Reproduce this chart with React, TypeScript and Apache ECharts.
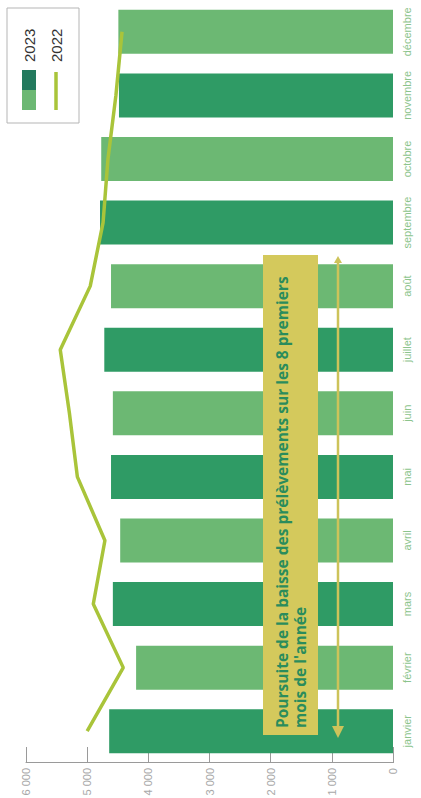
import React, { useEffect, useRef } from "react";
import * as echarts from "echarts";

const months = ["janvier", "février", "mars", "avril", "mai", "juin", "juillet", "août", "septembre", "octobre", "novembre", "décembre"];
const values2023 = [4640, 4200, 4580, 4460, 4610, 4580, 4720, 4610, 4790, 4770, 4480, 4490];
const values2022 = [5000, 4410, 4900, 4710, 5160, 5290, 5440, 4950, 4740, 4660, 4530, 4430];
const valueTicks = [0, 1000, 2000, 3000, 4000, 5000, 6000];
const annotationText = ["Poursuite de la baisse des prélèvements sur les 8 premiers", "mois de l'année"];
const legendNames = ["2023", "2022"];

const DARK = "#2f9b65";
const LIGHT = "#6cb873";
const LINE = "#a9c43a";
const BOX = "#d4c95c";
const TEXT_GREEN = "#2a8c5c";

export default function App() {
  const ref = useRef<HTMLDivElement>(null);
  useEffect(() => {
    if (!ref.current) return;
    const chart = echarts.init(ref.current, undefined, { renderer: "svg" });
    chart.setOption({
      animation: false,
      backgroundColor: "#ffffff",
      grid: { left: 35, right: 0, top: 26, bottom: 28, containLabel: false, outerBoundsMode: "none" },
      xAxis: {
        type: "category",
        data: months,
        axisLine: { show: false },
        axisTick: { show: false },
        axisLabel: { color: "#8cc48c", fontSize: 11, margin: 8, interval: 0, fontFamily: "Liberation Sans" },
      },
      yAxis: {
        type: "value",
        min: valueTicks[0],
        max: valueTicks[valueTicks.length - 1],
        interval: 1000,
        splitLine: { show: false },
        axisLine: { show: true, lineStyle: { color: "#9a9a9a", width: 1 } },
        axisTick: { show: true, inside: true, length: 16, lineStyle: { color: "#9a9a9a" } },
        axisLabel: {
          color: "#a8a8a8",
          fontSize: 11,
          margin: 5,
          fontFamily: "Liberation Sans",
          formatter: (v: number) => (v === 0 ? "0" : v / 1000 + " 000"),
        },
      },
      series: [
        {
          name: legendNames[0],
          type: "bar",
          data: values2023,
          barWidth: 44,
          itemStyle: { color: (p: any) => (p.dataIndex % 2 === 0 ? DARK : LIGHT) },
          z: 2,
        },
        {
          name: legendNames[1],
          type: "line",
          data: values2022,
          symbol: "none",
          lineStyle: { color: LINE, width: 3.5 },
          z: 5,
        },
      ],
      graphic: [
        // legend
        { type: "rect", shape: { x: 675, y: 7, width: 115, height: 72 }, style: { fill: "#fff", stroke: "#b5b5b5", lineWidth: 1 }, z: 10 },
        { type: "rect", shape: { x: 688, y: 22, width: 20, height: 14 }, style: { fill: LIGHT }, z: 11 },
        { type: "rect", shape: { x: 708, y: 22, width: 20, height: 14 }, style: { fill: "#237a5e" }, z: 11 },
        { type: "text", x: 736, y: 29, style: { text: legendNames[0], fill: "#333", font: "15px Liberation Sans", verticalAlign: "middle" }, z: 11 },
        { type: "line", shape: { x1: 688, y1: 56, x2: 726, y2: 56 }, style: { stroke: LINE, lineWidth: 3.5 }, z: 11 },
        { type: "text", x: 736, y: 56, style: { text: legendNames[1], fill: "#333", font: "15px Liberation Sans", verticalAlign: "middle" }, z: 11 },
        // annotation
        { type: "rect", shape: { x: 63, y: 263, width: 480, height: 55 }, style: { fill: BOX }, z: 10 },
        {
          type: "text",
          x: 70,
          y: 273,
          style: { text: annotationText.join("\n"), fill: TEXT_GREEN, font: "bold 15.5px 'Open Sans'", lineHeight: 18, verticalAlign: "top" },
          z: 11,
        },
        { type: "line", shape: { x1: 66, y1: 338, x2: 538, y2: 338 }, style: { stroke: "#cdc35a", lineWidth: 2.5 }, z: 10 },
        { type: "polygon", shape: { points: [[60, 338], [72, 332], [72, 344]] }, style: { fill: "#cdc35a" }, z: 10 },
        { type: "polygon", shape: { points: [[542, 338], [535, 334], [535, 342]] }, style: { fill: "#cdc35a" }, z: 10 },
      ],
    });
    return () => chart.dispose();
  }, []);
  return (
    <div style={{ position: "fixed", left: 0, top: 0, width: 421, height: 798, overflow: "hidden", background: "#fff" }}>
      <div
        ref={ref}
        style={{
          position: "absolute",
          left: 0,
          top: 0,
          width: 798,
          height: 421,
          transformOrigin: "0 0",
          transform: "translate(0px, 798px) rotate(-90deg)",
        }}
      />
    </div>
  );
}
